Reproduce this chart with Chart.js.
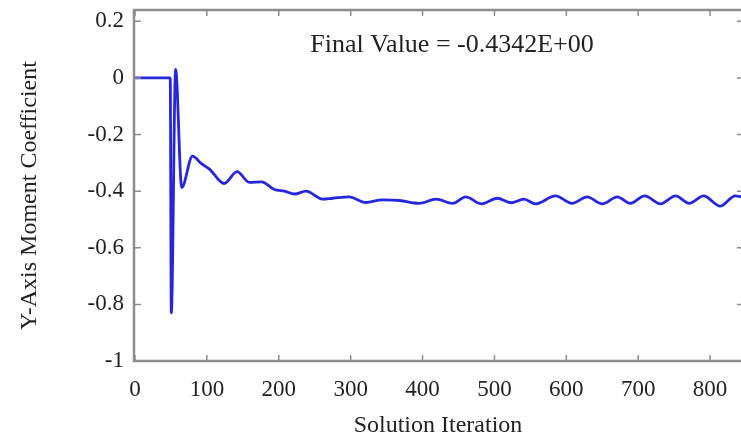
<!DOCTYPE html>
<html>
<head>
<meta charset="utf-8">
<script src="https://cdn.jsdelivr.net/npm/chart.js@4.4.1/dist/chart.umd.min.js"></script>
<style>
  html, body { margin: 0; padding: 0; background: #fff; }
  #chart { display: block; }
</style>
</head>
<body>
<canvas id="chart" width="741" height="439"></canvas>
<script>
// values
const iterations = [0, 49, 50.5, 56.5, 65, 80, 92, 104, 124, 142, 159, 176, 194, 208, 222, 238,
    261, 275, 298, 321, 344, 368, 395, 419, 442, 460, 482, 504, 523, 541, 557, 585, 608,
    629, 650, 671, 689, 709, 731, 752, 771, 791, 814, 835, 843]
const momentCoef = [0, 0, -0.83, 0.03, -0.387, -0.276, -0.302, -0.323, -0.373, -0.331, -0.369,
    -0.367, -0.394, -0.40, -0.41, -0.40, -0.428, -0.425, -0.42, -0.44, -0.431, -0.433, -0.443,
    -0.428, -0.443, -0.42, -0.445, -0.425, -0.441, -0.428, -0.445, -0.417, -0.443, -0.42,
    -0.445, -0.42, -0.443, -0.417, -0.445, -0.417, -0.443, -0.417, -0.453, -0.417, -0.42]
const xTicks = [0, 100, 200, 300, 400, 500, 600, 700, 800]
const yTicks = [0.2, 0, -0.2, -0.4, -0.6, -0.8, -1]
const yTitle = 'Y-Axis Moment Coefficient'
const finalLabel = 'Final Value = -0.4342E+00'
const finalLabelPos = { x: 441, y: 0.114 }

const serif = "'Liberation Serif', 'Times New Roman', serif"
const frameColor = '#8c8c8c'
const textColor = '#222'

// box round the plot with inward ticks, the y title and the final value text
const framePlugin = {
    id: 'frame',
    afterDatasetsDraw(chart) {
        const ctx = chart.ctx
        const a = chart.chartArea
        const xs = chart.scales.x
        const ys = chart.scales.y
        ctx.save()
        ctx.strokeStyle = frameColor
        ctx.lineWidth = 2.5
        ctx.beginPath()
        ctx.moveTo(a.right + 5, a.top)
        ctx.lineTo(a.left - 1, a.top)
        ctx.lineTo(a.left - 1, a.bottom)
        ctx.lineTo(a.right + 5, a.bottom)
        ctx.stroke()

        ctx.lineWidth = 1.5
        ctx.beginPath()
        xTicks.forEach(v => {
            const px = xs.getPixelForValue(v)
            ctx.moveTo(px, a.bottom); ctx.lineTo(px, a.bottom - 6)
            ctx.moveTo(px, a.top); ctx.lineTo(px, a.top + 6)
        })
        yTicks.forEach(v => {
            const py = ys.getPixelForValue(v)
            ctx.moveTo(a.left, py); ctx.lineTo(a.left + 6, py)
            ctx.moveTo(a.right, py); ctx.lineTo(a.right - 4, py)
        })
        ctx.stroke()

        ctx.fillStyle = textColor
        ctx.textAlign = 'center'
        ctx.textBaseline = 'middle'
        ctx.font = '26px ' + serif
        ctx.fillText(finalLabel, xs.getPixelForValue(finalLabelPos.x), ys.getPixelForValue(finalLabelPos.y))

        // y title sits a little below the middle of the plot in the original
        ctx.font = '24px ' + serif
        ctx.translate(30, (a.top + a.bottom) / 2 + 10)
        ctx.rotate(-Math.PI / 2)
        ctx.fillText(yTitle, 0, 0)
        ctx.restore()
    }
}

const data = {
    datasets: [{
        data: iterations.map((it, i) => ({ x: it, y: momentCoef[i] })),
        borderColor: 'rgb(38, 38, 222)',
        borderWidth: 2.8,
        pointRadius: 0,
        cubicInterpolationMode: 'monotone',
        fill: false
    }]
}

const options = {
    responsive: false,
    animation: false,
    layout: { padding: { top: 10, right: 0, left: 0, bottom: 0 } },
    plugins: { legend: { display: false }, tooltip: { enabled: false } },
    scales: {
        x: {
            type: 'linear',
            min: 0,
            max: 843,
            afterFit: s => { s.height = 78; s.paddingLeft = 0; s.paddingRight = 0 },
            afterBuildTicks: s => { s.ticks = xTicks.map(v => ({ value: v })) },
            grid: { display: false, drawTicks: false },
            border: { display: false },
            ticks: {
                padding: 15,
                color: textColor,
                font: { family: serif, size: 23 },
                callback: v => String(v)
            },
            title: {
                display: true,
                text: 'Solution Iteration',
                color: textColor,
                font: { family: serif, size: 24, lineHeight: 1 },
                padding: { top: 0, bottom: 1 }
            }
        },
        y: {
            type: 'linear',
            min: -1,
            max: 0.24,
            afterFit: s => { s.width = 135; s.paddingTop = 0; s.paddingBottom = 0 },
            afterBuildTicks: s => { s.ticks = yTicks.map(v => ({ value: v })) },
            grid: { display: false, drawTicks: false },
            border: { display: false },
            ticks: {
                padding: 11,
                color: textColor,
                font: { family: serif, size: 23 },
                callback: v => String(Math.round(v * 10) / 10)
            }
        }
    }
}

const ctx = document.getElementById('chart').getContext('2d')
const myChart = new Chart(ctx, { type: 'line', data: data, options: options, plugins: [framePlugin] })
</script>
</body>
</html>
